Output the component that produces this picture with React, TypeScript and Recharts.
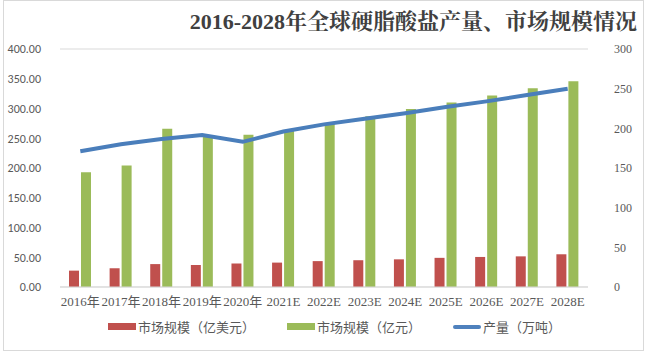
import React from "react";
import {
  ComposedChart, Bar, Line, XAxis, YAxis, CartesianGrid, Legend,
} from "recharts";

const years = [
  "2016年", "2017年", "2018年", "2019年", "2020年", "2021E", "2022E",
  "2023E", "2024E", "2025E", "2026E", "2027E", "2028E",
];
const marketUsd = [27.5, 31.5, 38.5, 37, 39.5, 41, 43.5, 45, 46.5, 49, 50.5, 51.5, 55];
const marketCny = [193, 204, 266, 254, 256, 263, 275, 287, 299, 310, 322, 334, 346];
const output = [171, 180, 186.5, 191.5, 183, 196, 205, 212, 219, 227, 234, 242, 250];

const leftTicks = [0, 50, 100, 150, 200, 250, 300, 350, 400];
const rightTicks = [0, 50, 100, 150, 200, 250, 300];

const data = years.map((y, i) => ({
  year: y,
  usd: marketUsd[i],
  cny: marketCny[i],
  output: output[i],
}));

const serif = "'Liberation Serif', 'Noto Sans CJK SC', serif";
const sans = "Calibri, 'Liberation Sans', 'Noto Sans CJK SC', sans-serif";

const renderLegend = (props: any) => {
  const items = [
    { label: "市场规模（亿美元）", color: "#c0504d", h: 7 },
    { label: "市场规模（亿元）", color: "#9bbb59", h: 7 },
    { label: "产量（万吨）", color: "#4f81bd", h: 4 },
  ];
  return (
    <div style={{ display: "flex", justifyContent: "center", gap: 32, paddingLeft: 20, fontFamily: "'Noto Sans CJK SC', sans-serif", fontSize: 13, color: "#595959" }}>
      {items.map((it) => (
        <div key={it.label} style={{ display: "flex", alignItems: "center" }}>
          <span style={{ display: "inline-block", width: 28, height: it.h, background: it.color, marginRight: 2, borderRadius: it.h === 4 ? 2 : 0 }} />
          <span>{it.label}</span>
        </div>
      ))}
    </div>
  );
};

export default function App() {
  return (
    <div style={{ position: "fixed", left: 0, top: 0, width: 649, height: 359, background: "#fff" }}>
      <div style={{ position: "absolute", left: 3, top: 0, width: 641, height: 351, border: "1px solid #d9d9d9", boxSizing: "border-box" }} />
      <div style={{ position: "absolute", right: 12, top: 4, fontFamily: "'Liberation Serif', 'Noto Serif CJK SC', 'Noto Sans CJK SC', serif", fontWeight: "bold", fontSize: 22, color: "#404040", whiteSpace: "nowrap" }}>
        2016-2028年全球硬脂酸盐产量、市场规模情况
      </div>
      <ComposedChart
        width={649}
        height={359}
        data={data}
        margin={{ top: 49, right: 0, left: 0, bottom: 23 }}
        barGap={2}
        barCategoryGap="24%"
        style={{ position: "absolute", left: 0, top: 0 }}
      >
        <CartesianGrid vertical={false} stroke="#d9d9d9" />
        <XAxis
          dataKey="year"
          interval={0}
          tickLine={false}
          axisLine={{ stroke: "#d9d9d9" }}
          tick={{ fill: "#595959", fontSize: 13, fontFamily: serif }}
          tickMargin={4}
          height={30}
        />
        <YAxis
          yAxisId="left"
          domain={[0, 400]}
          ticks={leftTicks}
          width={60}
          axisLine={false}
          tickLine={false}
          tickFormatter={(v: number) => v.toFixed(2)}
          tick={{ fill: "#595959", fontSize: 12, fontFamily: sans }}
          tickMargin={13}
        />
        <YAxis
          yAxisId="right"
          orientation="right"
          domain={[0, 300]}
          ticks={rightTicks}
          width={61}
          axisLine={false}
          tickLine={false}
          tick={{ fill: "#595959", fontSize: 12, fontFamily: serif }}
          tickMargin={20}
        />
        <Legend content={renderLegend} verticalAlign="bottom" />
        <Bar yAxisId="left" dataKey="usd" name="市场规模（亿美元）" fill="#c0504d" barSize={10} isAnimationActive={false} />
        <Bar yAxisId="left" dataKey="cny" name="市场规模（亿元）" fill="#9bbb59" barSize={10} isAnimationActive={false} />
        <Line yAxisId="right" dataKey="output" name="产量（万吨）" stroke="#4a7ebb" strokeWidth={4} dot={false} type="linear" isAnimationActive={false} />
      </ComposedChart>
    </div>
  );
}
